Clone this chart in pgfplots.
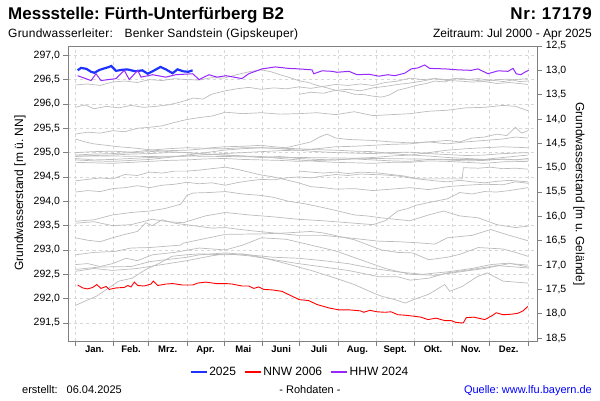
\documentclass[border=0pt]{standalone}
\usepackage{pgfplots}
\pgfplotsset{compat=1.18}
\usepackage{fontspec}
\setmainfont{Liberation Sans}
\frenchspacing
\definecolor{lgray}{RGB}{188,188,188}
\definecolor{axgray}{RGB}{128,128,128}
\definecolor{gridgray}{RGB}{215,215,215}
\definecolor{c2025}{RGB}{30,50,255}
\definecolor{cnnw}{RGB}{255,0,0}
\definecolor{chhw}{RGB}{150,40,255}
\definecolor{qblue}{RGB}{0,0,255}
\pgfplotsset{gl/.style={color=lgray, line width=0.7pt, forget plot}}
\begin{document}
\begin{tikzpicture}[x=1pt,y=1pt]
\useasboundingbox (0,0) rectangle (600,400);
\begin{axis}[
  at={(68.5pt,59pt)}, anchor=south west,
  scale only axis, width=468.8pt, height=295pt,
  xmin=-5.5, xmax=372.6, ymin=291.13, ymax=297.19,
  axis line style={axgray, line width=0.8pt},
  xtick={0,31,59,90,120,151,181,212,243,273,304,334,365},
  xticklabels={,,,,,,,,,,,,},
  extra x ticks={15.5,45,74.5,105,135.5,166,196.5,227.5,258,288.5,319,349.5},
  extra x tick labels={Jan.,Feb.,Mrz.,Apr.,Mai,Juni,Juli,Aug.,Sept.,Okt.,Nov.,Dez.},
  extra x tick style={grid=none, major tick length=0pt, tick label style={font=\bfseries\fontsize{9.5}{11}\selectfont, yshift=-1.5pt}},
  ytick={291.5,292,292.5,293,293.5,294,294.5,295,295.5,296,296.5,297},
  grid=major,
  major grid style={gridgray, dash pattern=on 3pt off 3pt, line width=0.6pt},
  tick align=outside, major tick length=5pt,
  tick style={axgray, line width=0.6pt},
  xtick pos=bottom, ytick pos=left,
  yticklabel style={font=\fontsize{10.5}{12}\selectfont},
  /pgf/number format/.cd, fixed, fixed zerofill, precision=1, use comma, assume math mode=true,
  /pgfplots/.cd,
  legend style={at={(0.494,-0.105)}, anchor=center, draw=none, fill=none, legend columns=3,
    font=\fontsize{12}{14}\selectfont, /tikz/every even column/.append style={column sep=6pt}},
  legend image code/.code={\draw[#1, line width=1.5pt] (0pt,0pt) -- (16pt,0pt);},
]
% gray lines (other years)
\addplot[gl] coordinates {(0,296.39)(10,296.41)(20,296.38)(30,296.45)(40,296.47)(50,296.44)(60,296.50)(70,296.48)(80,296.52)(90,296.50)(100,296.49)(110,296.54)(120,296.53)(130,296.60)(140,296.66)(150,296.70)(158,296.66)(165,296.60)(172,296.55)(180,296.48)(188,296.44)(195,296.38)(203,296.33)(210,296.28)(218,296.25)(225,296.20)(233,296.19)(240,296.16)(247,296.14)(253,296.18)(260,296.28)(268,296.33)(275,296.38)(283,296.42)(290,296.47)(298,296.45)(305,296.52)(315,296.50)(325,296.52)(335,296.49)(345,296.46)(355,296.50)(365,296.52)};
\addplot[gl] coordinates {(0,295.93)(8,295.98)(15,295.90)(25,295.95)(35,295.92)(45,295.97)(55,295.93)(65,295.95)(75,295.98)(85,296.04)(95,296.12)(103,296.10)(110,296.20)(121,296.27)(130,296.31)(140,296.34)(150,296.30)(160,296.33)(170,296.31)(180,296.35)(190,296.32)(200,296.36)(210,296.40)(220,296.38)(230,296.41)(240,296.38)(250,296.44)(260,296.47)(270,296.53)(280,296.50)(290,296.52)(300,296.48)(310,296.47)(320,296.45)(330,296.46)(340,296.42)(350,296.44)(358,296.42)(365,296.40)};
\addplot[gl] coordinates {(181,296.20)(190,296.24)(200,296.22)(210,296.28)(220,296.30)(230,296.27)(240,296.33)(250,296.36)(260,296.40)(270,296.43)(280,296.47)(290,296.52)(300,296.50)(310,296.53)(320,296.49)(330,296.47)(340,296.50)(350,296.51)(358,296.46)(365,296.47)};
\addplot[gl] coordinates {(0,295.38)(10,295.42)(20,295.40)(30,295.45)(40,295.43)(50,295.50)(60,295.52)(70,295.55)(80,295.62)(90,295.68)(100,295.72)(110,295.75)(121,295.83)(135,295.80)(150,295.82)(165,295.79)(180,295.80)(195,295.82)(210,295.78)(225,295.84)(240,295.76)(255,295.78)(270,295.80)(285,295.85)(300,295.87)(315,295.92)(330,295.93)(345,295.97)(355,295.95)(365,295.86)};
\addplot[gl] coordinates {(0,295.28)(8,295.22)(15,295.18)(25,295.15)(35,295.12)(45,295.10)(60,295.06)(75,295.02)(90,295.00)(105,294.97)(120,294.95)(135,294.93)(150,294.90)(165,294.92)(180,294.88)(195,294.86)(210,294.85)(225,294.87)(240,294.85)(255,294.83)(270,294.82)(285,294.86)(300,294.85)(315,294.83)(330,294.84)(345,294.87)(355,294.85)(365,294.88)};
\addplot[gl] coordinates {(0,294.95)(15,294.97)(30,294.98)(45,295.00)(60,295.02)(75,295.04)(90,295.05)(105,295.08)(120,295.08)(135,295.10)(150,295.10)(165,295.08)(180,295.05)(195,295.08)(210,295.12)(225,295.13)(240,295.15)(255,295.17)(270,295.18)(285,295.22)(300,295.25)(310,295.22)(320,295.30)(330,295.32)(340,295.38)(348,295.35)(355,295.52)(360,295.40)(365,295.45)};
\addplot[gl] coordinates {(0,295.00)(15,295.02)(30,295.03)(45,295.01)(60,295.05)(75,295.08)(90,295.10)(105,295.09)(120,295.12)(135,295.13)(150,295.15)(160,295.12)(170,295.10)(180,295.16)(190,295.22)(197,295.32)(203,295.38)(210,295.30)(220,295.27)(230,295.26)(240,295.25)(255,295.22)(270,295.20)(285,295.22)(300,295.18)(315,295.22)(330,295.25)(345,295.28)(355,295.32)(365,295.30)};
\addplot[gl] coordinates {(0,294.92)(15,294.94)(30,294.95)(45,294.97)(60,294.98)(75,295.00)(90,295.00)(105,294.97)(120,294.95)(135,294.93)(150,294.92)(165,294.88)(180,294.85)(195,294.82)(210,294.80)(225,294.79)(240,294.78)(255,294.80)(270,294.80)(285,294.83)(300,294.82)(315,294.80)(330,294.78)(345,294.81)(365,294.82)};
\addplot[gl] coordinates {(0,294.88)(15,294.85)(30,294.86)(45,294.88)(60,294.90)(75,294.91)(90,294.93)(105,294.96)(120,294.98)(135,295.00)(150,295.02)(165,295.04)(180,295.05)(195,295.02)(210,295.00)(225,294.99)(240,294.98)(255,295.00)(270,295.01)(285,294.98)(300,294.96)(315,294.94)(330,294.95)(345,294.98)(365,295.00)};
\addplot[gl] coordinates {(0,294.85)(15,294.83)(30,294.82)(45,294.84)(60,294.86)(75,294.90)(90,294.95)(105,295.00)(120,295.05)(135,295.08)(150,295.10)(165,295.09)(180,295.08)(195,295.06)(210,295.05)(225,295.03)(240,295.02)(255,294.98)(270,294.95)(285,294.93)(300,294.90)(315,294.88)(330,294.86)(345,294.90)(365,294.95)};
\addplot[gl] coordinates {(0,294.80)(15,294.79)(30,294.78)(45,294.80)(60,294.82)(75,294.84)(90,294.85)(105,294.87)(120,294.88)(135,294.86)(150,294.85)(165,294.84)(180,294.82)(195,294.84)(210,294.85)(225,294.88)(240,294.90)(255,294.93)(270,294.95)(285,295.00)(300,295.05)(315,295.08)(330,295.10)(345,295.12)(365,295.10)};
\addplot[gl] coordinates {(0,294.93)(30,294.93)(60,294.92)(90,294.93)(120,294.92)(150,294.91)(180,294.90)(210,294.89)(240,294.88)(270,294.87)(300,294.86)(330,294.86)(365,294.85)};
\addplot[gl] coordinates {(0,294.42)(10,294.45)(20,294.48)(30,294.46)(40,294.55)(50,294.53)(60,294.60)(70,294.58)(80,294.62)(90,294.62)(100,294.64)(110,294.67)(121,294.70)(130,294.66)(140,294.60)(150,294.54)(160,294.50)(170,294.44)(180,294.38)(190,294.30)(200,294.28)(210,294.25)(225,294.26)(240,294.22)(255,294.25)(270,294.28)(285,294.24)(300,294.30)(315,294.33)(330,294.35)(345,294.34)(355,294.40)(365,294.37)};
\addplot[gl] coordinates {(181,294.62)(190,294.60)(200,294.58)(210,294.60)(220,294.57)(230,294.60)(245,294.58)(255,294.55)(265,294.52)(277,294.46)(312,294.46)(313,294.69)(325,294.68)(335,294.70)(345,294.67)(355,294.68)(365,294.66)};
\addplot[gl] coordinates {(0,294.19)(10,294.22)(20,294.20)(30,294.26)(40,294.28)(50,294.32)(60,294.28)(70,294.33)(80,294.35)(90,294.39)(100,294.36)(110,294.38)(121,294.33)(130,294.38)(140,294.42)(150,294.45)(160,294.44)(170,294.48)(180,294.50)(190,294.48)(200,294.52)(210,294.55)(220,294.53)(230,294.56)(240,294.55)(250,294.54)(260,294.52)(270,294.48)(280,294.45)(290,294.42)(300,294.40)(310,294.43)(320,294.40)(330,294.38)(340,294.41)(350,294.43)(365,294.40)};
\addplot[gl] coordinates {(0,293.59)(15,293.62)(30,293.72)(45,293.77)(60,293.80)(72,293.85)(85,293.94)(90,294.12)(95,294.17)(108,294.18)(121,294.20)(135,294.15)(150,294.12)(160,294.08)(172,294.00)(185,293.95)(200,293.87)(212,293.80)(225,293.72)(235,293.70)(247,293.66)(258,293.63)(270,293.60)(285,293.72)(297,293.80)(310,293.70)(325,293.66)(340,293.52)(355,293.46)(365,293.49)};
\addplot[gl] coordinates {(0,293.55)(15,293.58)(30,293.50)(45,293.52)(62,293.63)(75,293.58)(87,293.56)(105,293.70)(121,293.77)(140,293.72)(160,293.68)(180,293.63)(200,293.60)(220,293.56)(240,293.52)(250,293.60)(260,293.80)(268,293.85)(275,293.92)(290,294.00)(300,294.05)(310,294.18)(320,294.15)(330,294.20)(340,294.19)(350,294.22)(365,294.28)};
\addplot[gl] coordinates {(0,293.25)(10,293.20)(20,293.17)(30,293.25)(40,293.32)(50,293.38)(57,293.56)(62,293.50)(70,293.62)(80,293.55)(95,293.50)(110,293.45)(121,293.46)(140,293.40)(160,293.35)(180,293.30)(200,293.30)(220,293.25)(245,293.18)(260,293.17)(275,293.15)(290,293.12)(300,293.25)(320,293.30)(335,293.42)(350,293.30)(365,293.19)};
\addplot[gl] coordinates {(0,291.86)(8,291.95)(17,292.05)(27,292.22)(35,292.36)(46,292.42)(50,292.49)(57,292.60)(68,292.73)(73,292.80)(78,292.87)(89,292.90)(100,292.92)(121,292.90)(135,292.92)(150,292.85)(170,292.72)(190,292.58)(210,292.42)(225,292.29)(240,292.12)(247,292.05)(255,292.00)(266,291.91)(275,292.00)(285,292.09)(298,292.29)(302,292.15)(312,292.25)(324,292.45)(332,292.53)(345,292.36)(365,292.32)};
\addplot[gl] coordinates {(0,292.90)(15,292.95)(32,292.97)(45,293.04)(60,293.05)(85,293.10)(87,293.14)(100,293.21)(121,293.32)(150,293.33)(170,293.35)(190,293.38)(200,293.35)(225,293.21)(247,293.00)(260,292.95)(272,292.94)(285,292.80)(300,292.85)(310,292.91)(325,293.05)(345,293.02)(355,292.95)(365,292.87)};
\addplot[gl] coordinates {(0,292.70)(10,292.72)(20,292.66)(30,292.72)(41,292.83)(50,292.78)(62,292.90)(80,292.95)(100,293.04)(121,293.00)(135,293.10)(150,293.25)(170,293.22)(190,293.10)(210,292.98)(230,292.80)(250,292.62)(270,292.50)(290,292.48)(310,292.55)(330,292.62)(350,292.72)(365,292.69)};
\addplot[gl] coordinates {(0,292.60)(20,292.65)(45,292.66)(60,292.76)(73,292.80)(90,292.85)(100,292.90)(121,292.94)(140,292.90)(160,292.85)(180,292.83)(200,292.78)(220,292.72)(240,292.62)(260,292.55)(280,292.50)(300,292.55)(320,292.62)(335,292.70)(350,292.73)(365,292.65)};
\addplot[gl] coordinates {(0,292.56)(15,292.62)(30,292.58)(50,292.62)(70,292.70)(90,292.78)(110,292.88)(121,292.92)(140,292.88)(160,292.80)(180,292.72)(200,292.65)(220,292.58)(245,292.45)(260,292.45)(270,292.38)(285,292.42)(300,292.53)(320,292.60)(340,292.68)(365,292.63)};
% 2025
\addplot[c2025, line width=2.2pt] coordinates {(1.9,296.69)(4.6,296.74)(9,296.72)(12.7,296.66)(15.4,296.64)(19.6,296.70)(27.2,296.76)(29,296.78)(32.8,296.68)(37.6,296.70)(42,296.71)(48.4,296.67)(54,296.69)(58.4,296.62)(63,296.68)(68.7,296.76)(73,296.71)(78.4,296.63)(82.4,296.71)(87,296.67)(91,296.66)(94.6,296.69)};
\addlegendentry{2025}
% NNW 2006
\addplot[cnnw, line width=0.9pt] coordinates {(1.9,292.28)(6,292.22)(10,292.20)(14,292.23)(17.3,292.29)(20.7,292.21)(24.8,292.25)(27.4,292.19)(32.8,292.22)(39.5,292.23)(42.3,292.27)(44.9,292.24)(47.6,292.34)(50.3,292.27)(55.6,292.26)(61,292.30)(62.9,292.36)(66.5,292.27)(73.1,292.30)(78.5,292.31)(86.6,292.28)(94.7,292.28)(98.7,292.32)(105.4,292.34)(113.5,292.31)(121.5,292.31)(126.4,292.30)(134.4,292.26)(139.8,292.26)(143.9,292.21)(147.9,292.24)(151.9,292.19)(158.6,292.18)(166.7,292.15)(174.8,292.05)(180.6,291.98)(188.2,291.96)(194.9,291.88)(204.4,291.81)(212.4,291.77)(220.7,291.77)(229.8,291.75)(232.6,291.72)(237.7,291.76)(243.3,291.73)(249.8,291.72)(254.6,291.73)(260.2,291.67)(265.9,291.66)(272.9,291.64)(278.8,291.62)(284.4,291.57)(290.9,291.60)(297.9,291.55)(303,291.55)(307.3,291.51)(312.9,291.50)(315.3,291.61)(321.5,291.62)(330.2,291.57)(335.5,291.64)(339.5,291.71)(344.9,291.67)(351.6,291.68)(357,291.70)(361.1,291.75)(365,291.84)};
\addlegendentry{NNW 2006}
% HHW 2024
\addplot[chhw, line width=1pt] coordinates {(1.9,296.58)(12.7,296.48)(16.7,296.62)(20.7,296.48)(32.8,296.52)(39.5,296.69)(43.5,296.50)(50.3,296.69)(53,296.55)(62.4,296.60)(73,296.55)(81,296.60)(94.7,296.62)(99.8,296.50)(107.8,296.60)(114.3,296.55)(121.5,296.58)(134.4,296.52)(139.8,296.62)(150.6,296.72)(161.3,296.76)(172.1,296.73)(180.2,296.72)(190.9,296.70)(192.3,296.62)(199,296.68)(207,296.67)(211,296.65)(220.7,296.67)(227.2,296.60)(236.9,296.61)(244.7,296.57)(252.2,296.60)(257.6,296.58)(265.6,296.63)(271,296.72)(276.4,296.74)(281.8,296.80)(285.8,296.73)(297.9,296.72)(308.6,296.70)(319.4,296.69)(324.8,296.72)(332.8,296.62)(340.9,296.68)(349,296.67)(353,296.73)(355.6,296.62)(359.2,296.60)(362.4,296.65)(365.6,296.69)};
\addlegendentry{HHW 2024}
\end{axis}
\begin{axis}[
  at={(68.5pt,59pt)}, anchor=south west,
  scale only axis, width=468.8pt, height=295pt,
  xmin=-5.5, xmax=372.6, ymin=12.5, ymax=18.56, y dir=reverse,
  axis x line=none, axis y line*=right,
  axis line style={axgray, line width=0.8pt},
  ytick={12.5,13,13.5,14,14.5,15,15.5,16,16.5,17,17.5,18,18.5},
  tick align=outside, major tick length=5pt,
  tick style={axgray, line width=0.6pt},
  yticklabel style={font=\fontsize{10.5}{12}\selectfont},
  /pgf/number format/.cd, fixed, fixed zerofill, precision=1, use comma, assume math mode=true,
]
\addplot[draw=none] coordinates {(0,13)};
\end{axis}
\node[rotate=90, inner sep=0, font=\fontsize{12}{14}\selectfont] at (20,207) {Grundwasserstand [m ü. NN]};
\node[rotate=-90, inner sep=0, font=\fontsize{12}{14}\selectfont] at (579,206) {Grundwasserstand [m u. Gelände]};
\node[anchor=base west, inner sep=0, font=\bfseries\fontsize{17}{19}\selectfont] at (8,380) {Messstelle: Fürth-Unterfürberg B2};
\node[anchor=base east, inner sep=0, font=\bfseries\fontsize{17}{19}\selectfont\addfontfeatures{LetterSpace=4}] at (592,380) {Nr: 17179};
\node[anchor=base west, inner sep=0, font=\fontsize{12}{14}\selectfont\addfontfeatures{LetterSpace=2}] at (8,362) {Grundwasserleiter:\hspace{8pt} Benker Sandstein (Gipskeuper)};
\node[anchor=base east, inner sep=0, font=\fontsize{12}{14}\selectfont] at (592,362) {Zeitraum: Jul 2000 - Apr 2025};
\node[anchor=base west, inner sep=0, font=\fontsize{11}{13}\selectfont] at (22,7) {erstellt:\hspace{6pt} 06.04.2025};
\node[anchor=base, inner sep=0, font=\fontsize{11}{13}\selectfont] at (310,7) {- Rohdaten -};
\node[anchor=base east, inner sep=0, text=qblue, font=\fontsize{11}{13}\selectfont] at (592,7) {Quelle: www.lfu.bayern.de};
\end{tikzpicture}
\end{document}
